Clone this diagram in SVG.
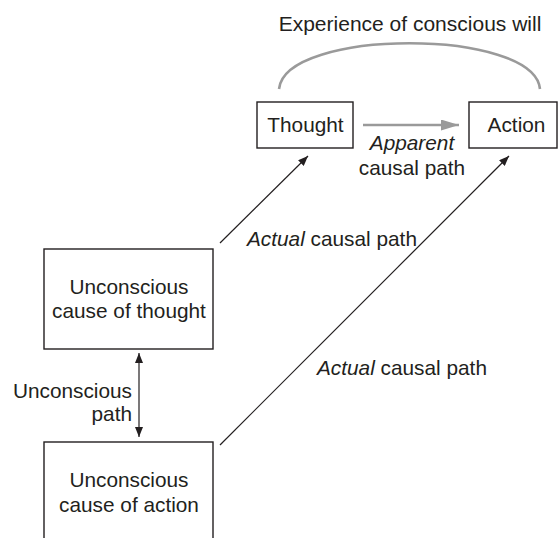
<svg xmlns="http://www.w3.org/2000/svg" width="558" height="538" viewBox="0 0 558 538">
  <style>
    text { font-family: "Liberation Sans", Arial, sans-serif; font-size: 20.8px; fill: #231f20; }
    .mid { text-anchor: middle; }
    .end { text-anchor: end; }
    .it { font-style: italic; }
    .box { fill: #ffffff; stroke: #231f20; stroke-width: 1.4; }
    .link { fill: none; stroke: #231f20; stroke-width: 1.2; }
    .grey { fill: none; stroke: #9a9a9a; stroke-width: 2.6; }
  </style>
  <defs>
    <marker id="head" viewBox="0 0 10 8" refX="10" refY="4" markerWidth="10" markerHeight="8" markerUnits="userSpaceOnUse" orient="auto-start-reverse">
      <path d="M0,0 L10,4 L0,8 Z" fill="#231f20"/>
    </marker>
    <marker id="greyhead" viewBox="0 0 18 11" refX="18" refY="5.5" markerWidth="18" markerHeight="11" markerUnits="userSpaceOnUse" orient="auto">
      <path d="M0,0 L18,5.5 L0,11 Z" fill="#9a9a9a"/>
    </marker>
  </defs>

  <!-- connectors -->
  <g id="connectors">
    <path class="grey" d="M279,89 C285,28 534,28 540,89"/>
    <line class="grey" x1="363" y1="125" x2="459" y2="125" marker-end="url(#greyhead)"/>
    <line class="link" x1="220" y1="243" x2="308" y2="156" marker-end="url(#head)"/>
    <line class="link" x1="220" y1="445" x2="509" y2="156" marker-end="url(#head)"/>
    <line class="link" x1="139" y1="353" x2="139" y2="437" marker-start="url(#head)" marker-end="url(#head)"/>
  </g>

  <!-- connector labels -->
  <g id="labels">
    <text class="mid" x="410" y="31" style="font-size:21px">Experience of conscious will</text>
    <text class="mid it" x="412" y="150">Apparent</text>
    <text class="mid" x="412" y="175">causal path</text>
    <text x="247" y="246"><tspan class="it">Actual</tspan> causal path</text>
    <text x="317" y="375"><tspan class="it">Actual</tspan> causal path</text>
    <text class="end" x="132" y="398">Unconscious</text>
    <text class="end" x="132" y="421">path</text>
  </g>

  <g id="thought">
    <rect class="box" x="257" y="102" width="96" height="46"/>
    <text class="mid" x="305.5" y="132">Thought</text>
  </g>

  <g id="action">
    <rect class="box" x="469" y="102" width="88" height="46"/>
    <text class="mid" x="516.5" y="132">Action</text>
  </g>

  <g id="cause-thought">
    <rect class="box" x="44" y="249" width="169" height="100"/>
    <text class="mid" x="129" y="294">Unconscious</text>
    <text class="mid" x="129" y="318">cause of thought</text>
  </g>

  <g id="cause-action">
    <rect class="box" x="44" y="442" width="169" height="110"/>
    <text class="mid" x="129" y="487">Unconscious</text>
    <text class="mid" x="129" y="512">cause of action</text>
  </g>
</svg>
